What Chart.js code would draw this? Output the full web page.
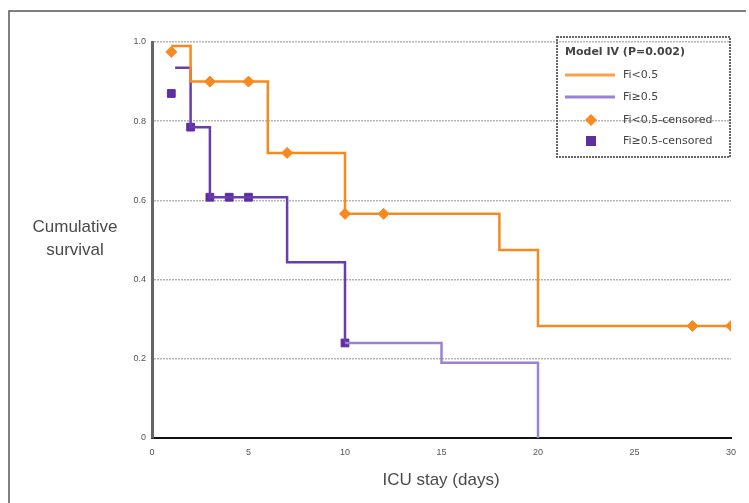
<!DOCTYPE html>
<html lang="en">
<head>
    <title>Cumulative survival</title>
    <meta charset="utf-8">
    <script src="https://cdn.jsdelivr.net/npm/chart.js@4.4.0/dist/chart.umd.min.js"></script>
    <style>
        html, body { margin: 0; padding: 0; background: #fff; }
        #wrap { width: 749px; height: 503px; position: relative; }
    </style>
</head>
<body>
<div id="wrap"><canvas id="km" width="749" height="503"></canvas></div>
<script type="text/javascript">
// step curves (event times / survival)
var lowDays = [1, 2, 6, 10, 18, 20, 30];
var lowSurv = [0.99, 0.90, 0.72, 0.566, 0.475, 0.283, 0.283];
var highDays = [1.2, 2, 3, 7, 10, 15, 20];
var highSurv = [0.935, 0.785, 0.608, 0.444, 0.24, 0.19, 0];

// censored observations
var lowCensDays = [1, 3, 5, 7, 10, 12, 28, 30];
var lowCensSurv = [0.975, 0.90, 0.90, 0.72, 0.566, 0.566, 0.283, 0.283];
var highCensDays = [1, 2, 3, 4, 5, 10];
var highCensSurv = [0.87, 0.785, 0.608, 0.608, 0.608, 0.24];

var xTicks = [0, 5, 10, 15, 20, 25, 30];
var yTicks = [0, 0.2, 0.4, 0.6, 0.8, 1.0];
var seriesNames = ["Fi<0.5", "Fi\u22650.5", "Fi<0.5-censored", "Fi\u22650.5-censored"];
var legendTitle = "Model IV (P=0.002)";

var orange = "#f7891f";
var purple = "#6a3dac";
var lavender = "#9c82d2";

function pts(xs, ys) {
    var out = [];
    for (var i = 0; i < xs.length; i++) out.push({ x: xs[i], y: ys[i] });
    return out;
}

// frame, axis titles and boxed legend
var extras = {
    id: "extras",
    afterDraw: function(chart) {
        var ctx = chart.ctx;
        ctx.save();
        // outer frame
        ctx.strokeStyle = "#555";
        ctx.lineWidth = 1.5;
        ctx.beginPath();
        ctx.moveTo(9, 503);
        ctx.lineTo(9, 11);
        ctx.lineTo(746, 11);
        ctx.stroke();

        ctx.fillStyle = "#4a4a4a";
        ctx.textAlign = "center";
        ctx.textBaseline = "middle";
        ctx.font = "17px 'Liberation Sans', Arial, sans-serif";
        ctx.fillText("Cumulative", 75, 227);
        ctx.fillText("survival", 75, 250);
        ctx.fillText("ICU stay (days)", 441, 480);

        // legend box
        var lx = 557, ly = 37, lw = 173, lh = 120;
        ctx.strokeStyle = "#666";
        ctx.lineWidth = 2;
        ctx.setLineDash([2, 1]);
        ctx.strokeRect(lx, ly, lw, lh);
        ctx.setLineDash([]);
        ctx.textAlign = "left";
        ctx.font = "bold 11px 'DejaVu Sans', sans-serif";
        ctx.fillStyle = "#444";
        ctx.fillText(legendTitle, lx + 8, ly + 15);
        ctx.font = "11px 'DejaVu Sans', sans-serif";
        var rows = [ly + 38, ly + 60, ly + 83, ly + 104];
        var lineCols = ["#f9a04a", lavender];
        var ds = chart.data.datasets;
        for (var i = 0; i < 4; i++) {
            var y = rows[i];
            if (i < 2) {
                ctx.strokeStyle = lineCols[i];
                ctx.lineWidth = 3;
                ctx.beginPath();
                ctx.moveTo(lx + 8, y);
                ctx.lineTo(lx + 58, y);
                ctx.stroke();
            } else {
                ctx.fillStyle = ds[i].backgroundColor;
                ctx.beginPath();
                if (i === 2) {
                    ctx.moveTo(lx + 34, y - 6);
                    ctx.lineTo(lx + 40, y);
                    ctx.lineTo(lx + 34, y + 6);
                    ctx.lineTo(lx + 28, y);
                    ctx.closePath();
                } else {
                    ctx.rect(lx + 29, y - 5, 10, 10);
                }
                ctx.fill();
            }
            ctx.fillStyle = "#444";
            ctx.fillText(seriesNames[i], lx + 66, y);
        }
        ctx.restore();
    }
};

new Chart(document.getElementById("km"), {
    type: "line",
    data: {
        datasets: [{
            label: seriesNames[0],
            data: pts(lowDays, lowSurv),
            stepped: "before",
            borderColor: orange,
            borderWidth: 2.5,
            pointRadius: 0,
            fill: false
        }, {
            label: seriesNames[1],
            data: pts(highDays, highSurv),
            stepped: "before",
            borderColor: purple,
            borderWidth: 2.5,
            pointRadius: 0,
            fill: false,
            segment: {
                borderColor: function(c) { return c.p0.parsed.x >= 10 ? lavender : purple; }
            }
        }, {
            label: seriesNames[2],
            data: pts(lowCensDays, lowCensSurv),
            showLine: false,
            pointStyle: "rectRot",
            pointRadius: 5.5,
            backgroundColor: orange,
            borderColor: orange
        }, {
            label: seriesNames[3],
            data: pts(highCensDays, highCensSurv),
            showLine: false,
            pointStyle: "rect",
            pointRadius: 5.5,
            backgroundColor: "#5e2f9e",
            borderColor: "#5e2f9e"
        }]
    },
    options: {
        responsive: false,
        animation: false,
        devicePixelRatio: 1,
        layout: { padding: { left: 112, right: 18, top: 42, bottom: 0 } },
        plugins: { legend: { display: false }, tooltip: { enabled: false } },
        scales: {
            x: {
                type: "linear",
                min: 0,
                max: 30,
                afterBuildTicks: function(s) { s.ticks = xTicks.map(function(v) { return { value: v }; }); },
                afterFit: function(s) { s.height = 65; },
                grid: { display: false, drawTicks: true },
                border: { color: "#111", width: 2 },
                ticks: {
                    color: "#555",
                    font: { size: 9 },
                    padding: 1,
                    callback: function(v) { return v; }
                }
            },
            y: {
                min: 0,
                max: 1,
                afterBuildTicks: function(s) { s.ticks = yTicks.map(function(v) { return { value: v }; }); },
                afterFit: function(s) { s.width = 40; },
                grid: {
                    color: function(c) { return c.tick.value === 0 ? "rgba(0,0,0,0)" : "#b5b5b5"; },
                    lineWidth: 1.5,
                    drawTicks: false
                },
                border: { color: "#666", width: 3, dash: [2, 1], display: true },
                ticks: {
                    color: "#555",
                    font: { size: 9 },
                    padding: 6,
                    callback: function(v) { return v === 0 ? "0" : v.toFixed(1); }
                }
            }
        }
    },
    plugins: [extras]
});
</script>
</body>
</html>
